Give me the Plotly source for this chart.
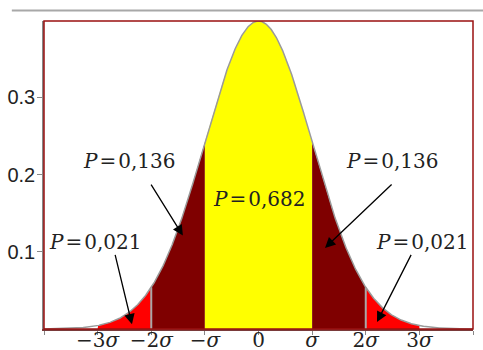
import numpy as np
import plotly.graph_objects as go

# Standard normal density, shaded by sigma bands
band_edges = [(-3, -2), (-2, -1), (-1, 1), (1, 2), (2, 3)]
band_colors = ["#ff0000", "#7f0000", "#ffff00", "#7f0000", "#ff0000"]

sigma_ticks = [-4, -3, -2, -1, 0, 1, 2, 3, 4]
sigma_labels = ["", "\u22123<i>\u03c3</i>", "\u22122<i>\u03c3</i>", "\u2212<i>\u03c3</i>", "0",
                "<i>\u03c3</i>", "2<i>\u03c3</i>", "3<i>\u03c3</i>", ""]
y_ticks = [0.1, 0.2, 0.3]
y_labels = ["0.1", "0.2", "0.3"]

# Probability labels: text, label position, arrow tail and tip (None = no arrow)
prob_text = ["0,021", "0,136", "0,682", "0,136", "0,021"]
label_pos = [(-3.05, 0.113), (-2.41, 0.217), (0.0, 0.169), (2.49, 0.217), (3.05, 0.113)]
arrow_tail = [(-2.68, 0.098), (-2.02, 0.189), None, (2.51, 0.189), (2.86, 0.098)]
arrow_tip = [(-2.36, 0.006), (-1.41, 0.121), None, (1.24, 0.105), (2.21, 0.009)]


def pdf(x):
    return np.exp(-0.5 * x ** 2) / np.sqrt(2 * np.pi)


fig = go.Figure()

for (a, b), col in zip(band_edges, band_colors):
    xs = np.linspace(a, b, 120)
    px = np.concatenate([[a], xs, [b]])
    py = np.concatenate([[0], pdf(xs), [0]])
    fig.add_trace(go.Scatter(x=px, y=py, mode="lines", fill="toself", fillcolor=col,
                             line=dict(width=0), hoverinfo="skip", showlegend=False))

# separators at +-2 sigma
for s in (-2, 2):
    fig.add_trace(go.Scatter(x=[s, s], y=[0, pdf(s)], mode="lines",
                             line=dict(color="#a8a8a8", width=2), hoverinfo="skip", showlegend=False))

xc = np.linspace(-4, 4, 801)
fig.add_trace(go.Scatter(x=xc, y=pdf(xc), mode="lines",
                         line=dict(color="#9a9a9a", width=1.5), hoverinfo="skip", showlegend=False))

serif = dict(family="DejaVu Serif", size=20, color="#222222")
for txt, pos, tail, tip in zip(prob_text, label_pos, arrow_tail, arrow_tip):
    fig.add_annotation(x=pos[0], y=pos[1], text="<i>P</i>\u200a=\u200a" + txt,
                       showarrow=False, font=serif, xanchor="center", yanchor="middle")
    if tip is not None:
        fig.add_annotation(x=tip[0], y=tip[1], ax=tail[0], ay=tail[1], axref="x", ayref="y",
                           text="", showarrow=True, arrowhead=2, arrowsize=1.6, arrowwidth=1.3,
                           arrowcolor="#000000", standoff=0)

# frame around plot area and rule above it
fig.add_shape(type="rect", xref="paper", yref="paper", x0=0, x1=1, y0=0, y1=1,
              line=dict(color="#9a1010", width=1.5), layer="above")
fig.add_shape(type="line", xref="paper", yref="paper", x0=-0.075, x1=1.05, y0=1.034, y1=1.034,
              line=dict(color="#a8a8a8", width=2))

fig.update_xaxes(range=[-4, 4], tickvals=sigma_ticks, ticktext=sigma_labels,
                 ticks="outside", ticklen=4, tickcolor="#888888", tickwidth=1,
                 ticklabelstandoff=-12,
                 showline=True, linecolor="#7a3a3a", linewidth=1.5, automargin=False,
                 showgrid=False, zeroline=False, tickfont=serif)
fig.update_yaxes(range=[0, 0.39894], tickvals=y_ticks, ticktext=y_labels,
                 ticks="outside", ticklen=5, tickcolor="#888888", tickwidth=1,
                 ticklabelstandoff=-2,
                 showline=True, linecolor="#888888", linewidth=1.5, automargin=False,
                 showgrid=False, zeroline=False,
                 tickfont=dict(family="Liberation Sans", size=20, color="#222222"))

fig.update_layout(width=483, height=350, margin=dict(l=44, r=10, t=21, b=21),
                  paper_bgcolor="white", plot_bgcolor="white", showlegend=False)

fig.write_html("out.html")
